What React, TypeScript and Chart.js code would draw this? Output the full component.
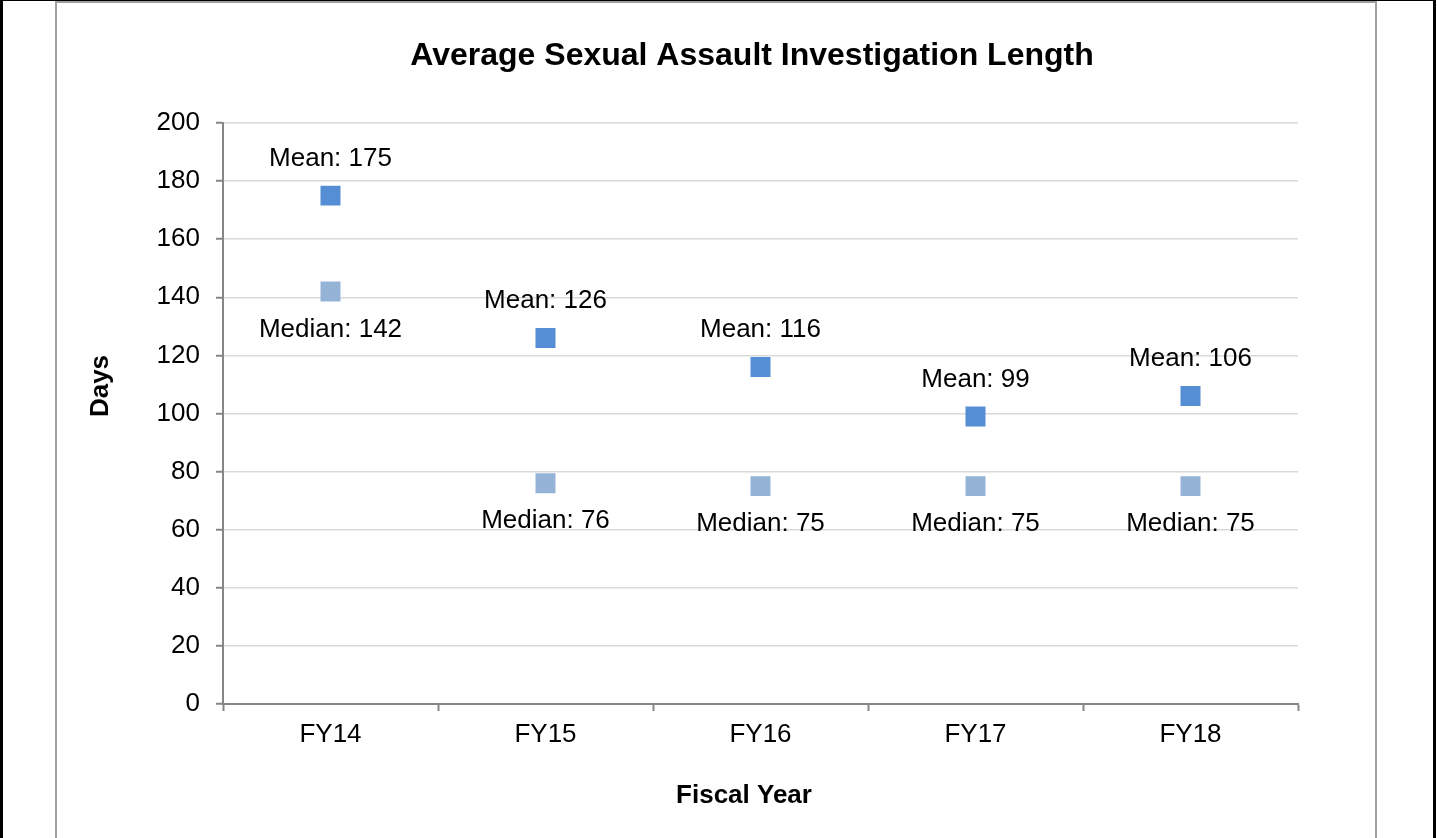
import React, { useEffect, useRef } from "react";
import { Chart, registerables } from "chart.js";

Chart.register(...registerables);

const categories = ["FY14", "FY15", "FY16", "FY17", "FY18"];
const meanValues = [175, 126, 116, 99, 106];
const medianValues = [142, 76, 75, 75, 75];
const meanLabelPrefix = "Mean: ";
const medianLabelPrefix = "Median: ";
const yMin = 0;
const yMax = 200;
const yStep = 20;
const chartTitle = "Average Sexual Assault Investigation Length";
const xAxisTitle = "Fiscal Year";
const yAxisTitle = "Days";

const FONT = '"Liberation Sans", Arial, Helvetica, sans-serif';
const MEAN_COLOR = "#558ED5";
const MEDIAN_COLOR = "#95B3D7";

const annotatePlugin = {
  id: "annotate",
  afterDatasetsDraw(chart: any) {
    const ctx = chart.ctx as CanvasRenderingContext2D;
    ctx.save();
    ctx.fillStyle = "#000";
    ctx.font = `26px ${FONT}`;
    ctx.textAlign = "center";
    ctx.textBaseline = "middle";
    chart.data.datasets.forEach((ds: any, di: number) => {
      const meta = chart.getDatasetMeta(di);
      meta.data.forEach((pt: any, i: number) => {
        const v = ds.data[i];
        const isMean = ds.label === "Mean";
        const text = (isMean ? meanLabelPrefix : medianLabelPrefix) + v;
        ctx.fillText(text, pt.x, pt.y + (isMean ? -37 : 38));
      });
    });

    // Chart title
    ctx.font = `bold 32px ${FONT}`;
    ctx.textBaseline = "alphabetic";
    ctx.fillText(chartTitle, 752, 65);

    // X axis title
    ctx.font = `bold 26px ${FONT}`;
    ctx.fillText(xAxisTitle, 744, 803);

    // Y axis title
    ctx.translate(101, 386);
    ctx.rotate(-Math.PI / 2);
    ctx.textBaseline = "middle";
    ctx.fillText(yAxisTitle, 0, 0);
    ctx.restore();
  },
};

export default function App() {
  const canvasRef = useRef<HTMLCanvasElement | null>(null);

  useEffect(() => {
    const canvas = canvasRef.current;
    if (!canvas) return;
    const chart = new Chart(canvas, {
      type: "line",
      data: {
        labels: categories,
        datasets: [
          {
            label: "Median",
            data: medianValues,
            showLine: false,
            pointStyle: "rect",
            pointRadius: 14.14,
            pointHoverRadius: 14.14,
            pointBackgroundColor: MEDIAN_COLOR,
            pointBorderColor: MEDIAN_COLOR,
            pointBorderWidth: 0,
            backgroundColor: MEDIAN_COLOR,
            borderColor: MEDIAN_COLOR,
          },
          {
            label: "Mean",
            data: meanValues,
            showLine: false,
            pointStyle: "rect",
            pointRadius: 14.14,
            pointHoverRadius: 14.14,
            pointBackgroundColor: MEAN_COLOR,
            pointBorderColor: MEAN_COLOR,
            pointBorderWidth: 0,
            backgroundColor: MEAN_COLOR,
            borderColor: MEAN_COLOR,
          },
        ],
      },
      options: {
        responsive: false,
        animation: false,
        events: [],
        layout: { padding: { left: 0, right: 139, top: 123, bottom: 0 } },
        plugins: {
          legend: { display: false },
          title: { display: false },
          tooltip: { enabled: false },
        },
        scales: {
          x: {
            type: "category",
            offset: true,
            grid: {
              offset: true,
              drawOnChartArea: false,
              drawTicks: true,
              tickLength: 7,
              tickColor: "#868686",
              tickWidth: 2,
            },
            border: { display: true, color: "#868686", width: 2 },
            ticks: {
              color: "#000",
              font: { family: FONT, size: 26 },
              padding: 8,
              maxRotation: 0,
              autoSkip: false,
            },
            afterFit(scale: any) {
              scale.height = 134;
            },
          },
          y: {
            min: yMin,
            max: yMax,
            grid: {
              color: "#D9D9D9",
              lineWidth: 1.5,
              drawTicks: true,
              tickLength: 7,
              tickColor: "#868686",
              tickWidth: 2,
            },
            border: { display: true, color: "#868686", width: 2 },
            ticks: {
              stepSize: yStep,
              color: "#000",
              font: { family: FONT, size: 26 },
              padding: 16,
            },
            afterFit(scale: any) {
              scale.width = 223;
            },
          },
        },
      },
      plugins: [annotatePlugin],
    } as any);
    return () => chart.destroy();
  }, []);

  return (
    <div
      style={{
        position: "fixed",
        left: 0,
        top: 0,
        width: 1437,
        height: 838,
        overflow: "hidden",
        background: "#fff",
      }}
    >
      <div
        style={{
          position: "absolute",
          left: 0,
          top: 0,
          width: 1436,
          height: 900,
          boxSizing: "border-box",
          borderLeft: "3px solid #000",
          borderRight: "3px solid #000",
          borderTop: "1px solid #000",
        }}
      />
      <div
        style={{
          position: "absolute",
          left: 55,
          top: 1,
          width: 1322,
          height: 900,
          boxSizing: "border-box",
          borderLeft: "2px solid #A0A0A0",
          borderRight: "2px solid #A0A0A0",
          borderTop: "2px solid #A0A0A0",
        }}
      />
      <canvas
        ref={canvasRef}
        width={1437}
        height={838}
        style={{ position: "absolute", left: 0, top: 0, width: 1437, height: 838 }}
      />
    </div>
  );
}
